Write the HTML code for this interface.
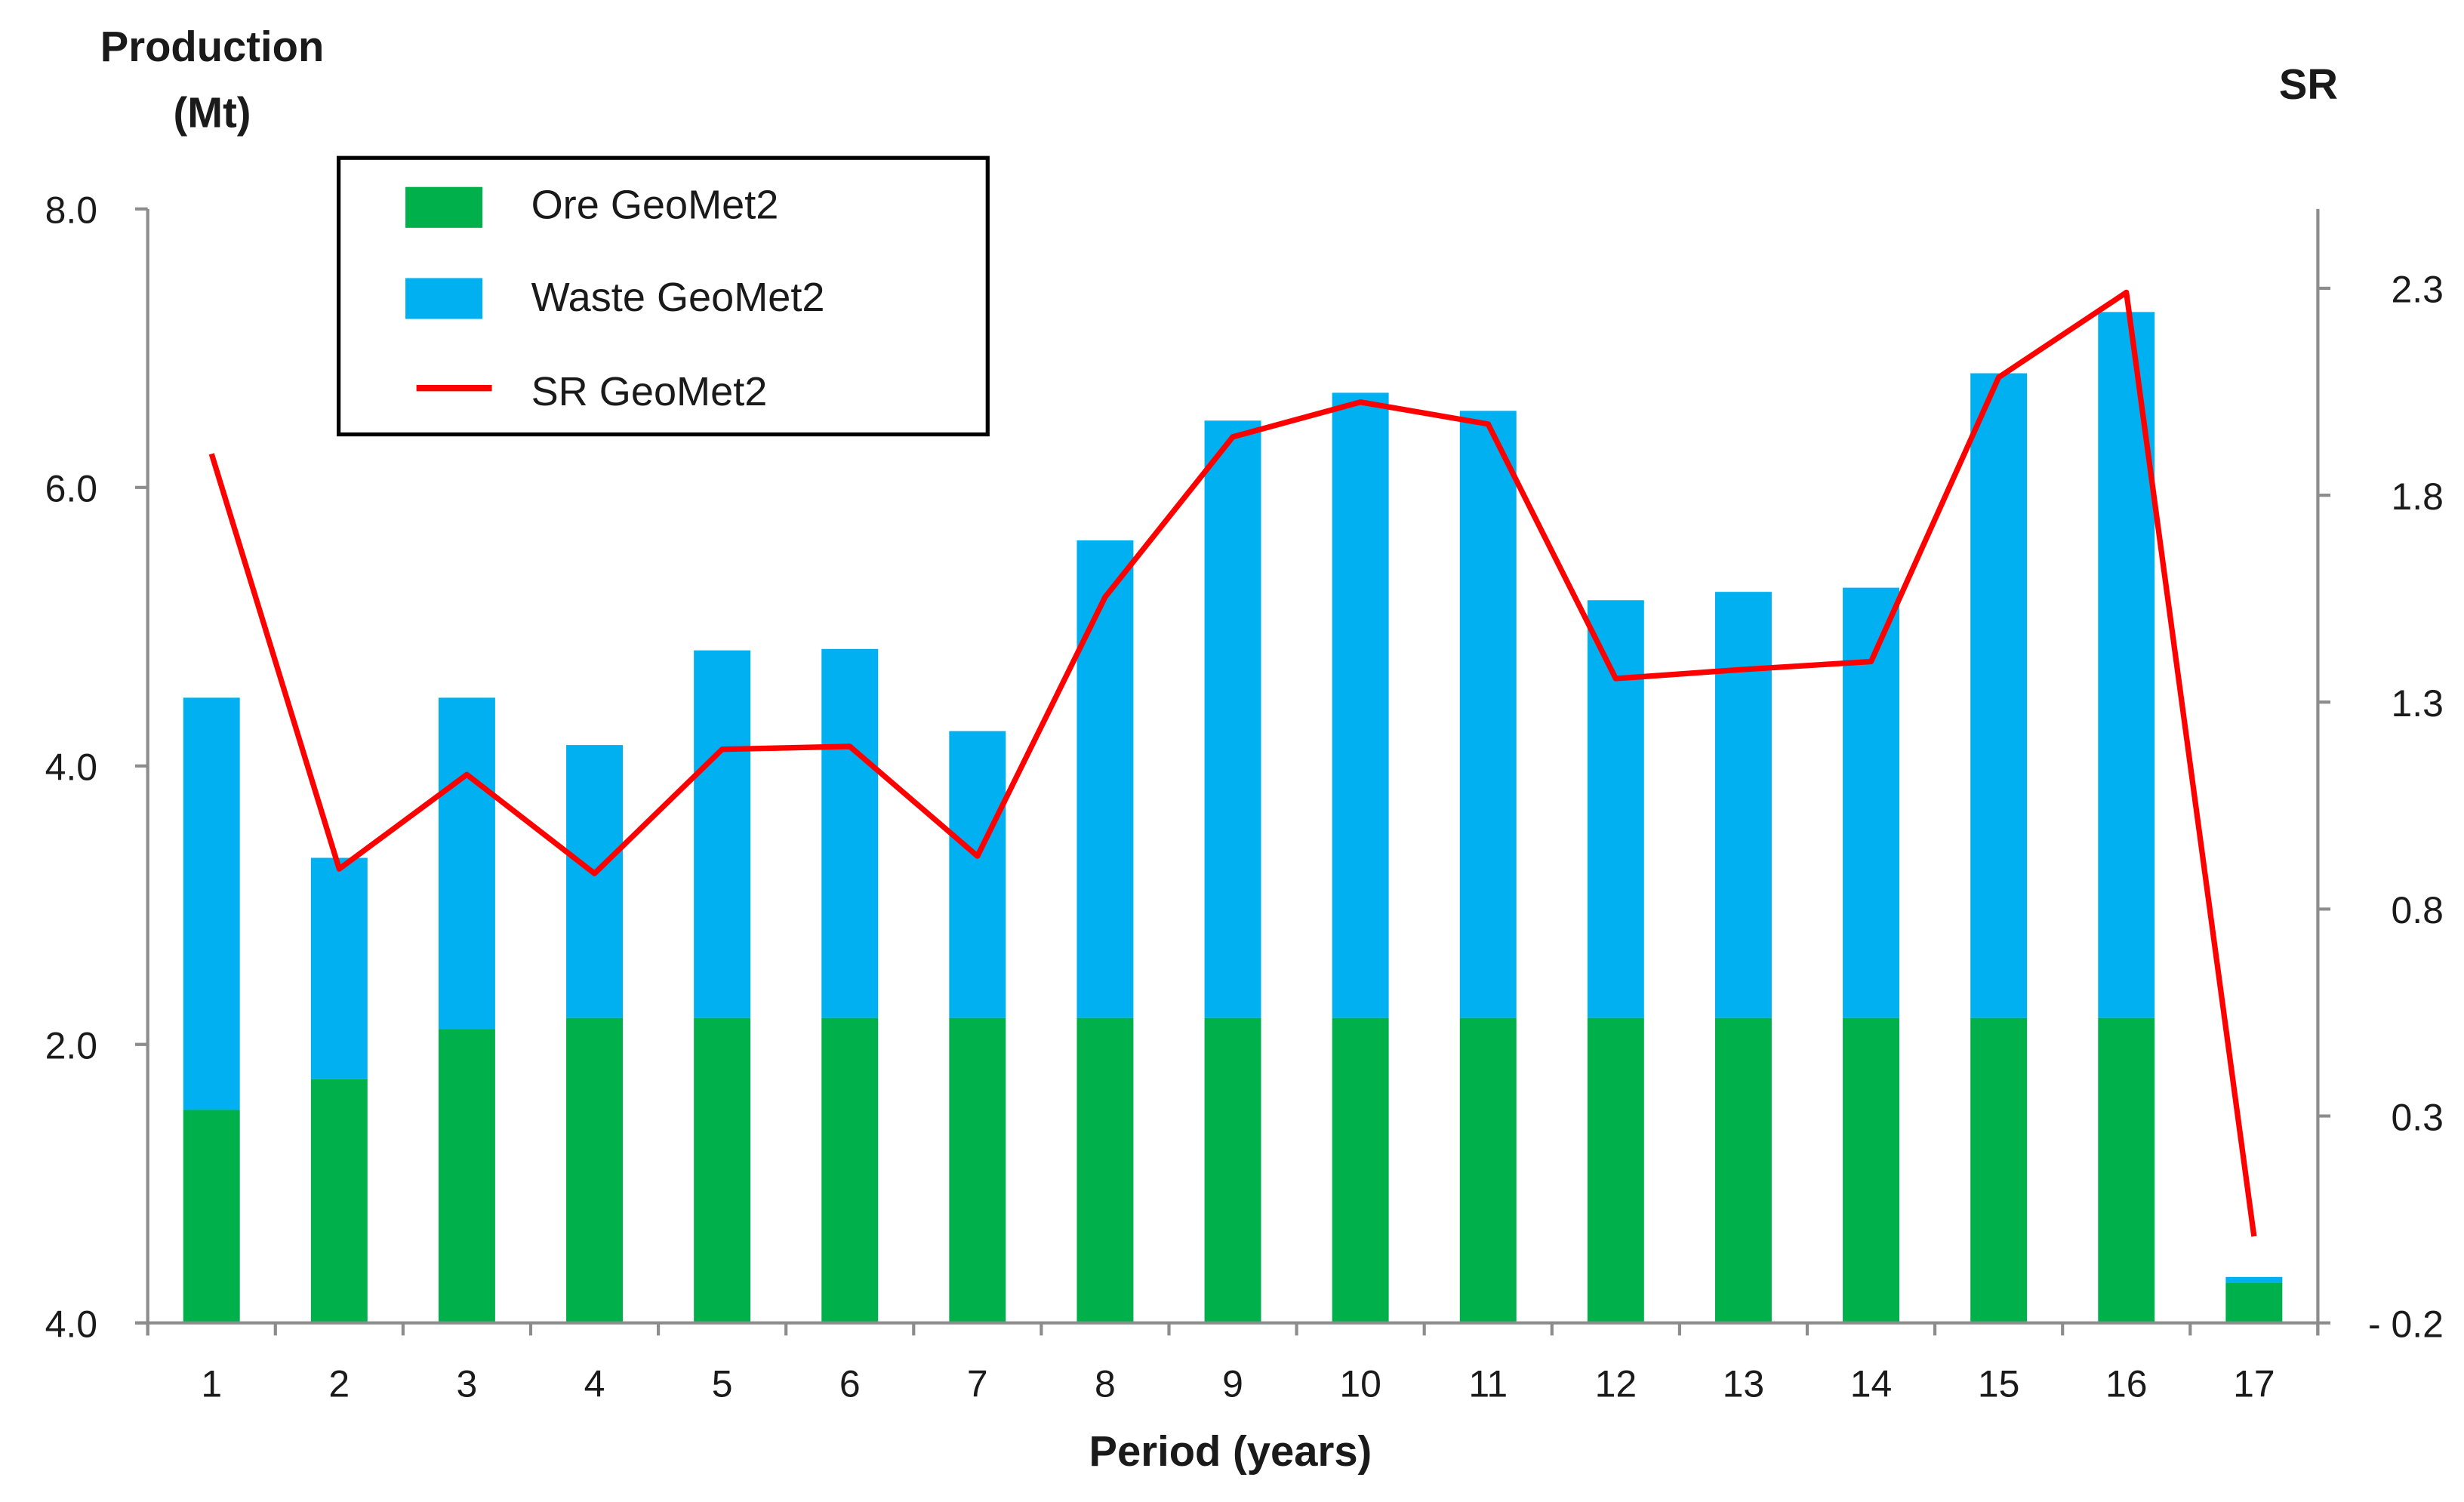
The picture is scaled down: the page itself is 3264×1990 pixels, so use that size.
<!DOCTYPE html>
<html><head><meta charset="utf-8"><style>
html,body{margin:0;padding:0;background:#fff;}
svg{display:block;}
text{font-family:"Liberation Sans",sans-serif;fill:#1a1a1a;}
</style></head><body>
<svg id="chart" width="3264" height="1990" viewBox="0 0 1568 956" preserveAspectRatio="none" xmlns="http://www.w3.org/2000/svg">
<g id="grid"></g>
<g id="bars"></g>
<g id="line"></g>
<g id="axes"></g>
<text x="135" y="39" text-anchor="middle" font-size="27" font-weight="bold">Production</text>
<text x="135" y="81" text-anchor="middle" font-size="27" font-weight="bold">(Mt)</text>
<text x="1469" y="63" text-anchor="middle" font-size="27" font-weight="bold">SR</text>
<text x="783" y="933" text-anchor="middle" font-size="27" font-weight="bold">Period (years)</text>
<g>
<rect x="215.5" y="100.5" width="413" height="176" fill="#fff" stroke="#000" stroke-width="2.5"/>
<rect x="258" y="119" width="49" height="26" fill="#00b04a"/>
<text x="338" y="139" font-size="26">Ore GeoMet2</text>
<rect x="258" y="177" width="49" height="26" fill="#00b0f0"/>
<text x="338" y="198" font-size="26">Waste GeoMet2</text>
<line x1="265" y1="247" x2="313" y2="247" stroke="#ff0000" stroke-width="4"/>
<text x="338" y="258" font-size="26">SR GeoMet2</text>
</g>
</svg>
<script>
const categories = ["1","2","3","4","5","6","7","8","9","10","11","12","13","14","15","16","17"];
const oreValues = [1.53,1.75,2.11,2.19,2.19,2.19,2.19,2.19,2.19,2.19,2.19,2.19,2.19,2.19,2.19,2.19,0.29];
const totalValues = [4.49,3.34,4.49,4.15,4.83,4.84,4.25,5.62,6.48,6.68,6.55,5.19,5.25,5.28,6.82,7.26,0.33];
const srValues = [1.90,0.897,1.125,0.886,1.186,1.193,0.928,1.554,1.941,2.025,1.972,1.357,1.379,1.398,2.085,2.29,0.009];
const leftTicks = [0,2,4,6,8];
const leftTickLabels = ["4.0","2.0","4.0","6.0","8.0"];
const rightTicks = [-0.2,0.3,0.8,1.3,1.8,2.3];
const rightTickLabels = ["- 0.2","0.3","0.8","1.3","1.8","2.3"];

const NS="http://www.w3.org/2000/svg";
const X0=94, X1=1475, Y0=842, Ytop=133;
const band=(X1-X0)/categories.length;
const xC=i=>X0+band*(i+0.5);
const yL=v=>Y0-(Y0-Ytop)*v/8;
const yR=v=>Y0-(v+0.2)*263.4;
function mk(tag,attrs,parent){const e=document.createElementNS(NS,tag);for(const k in attrs)e.setAttribute(k,attrs[k]);parent.appendChild(e);return e;}
const bars=document.getElementById('bars'), axes=document.getElementById('axes'), lineG=document.getElementById('line');
const bw=36;
categories.forEach((c,i)=>{
  let r=mk('rect',{x:xC(i)-bw/2,y:yL(totalValues[i]),width:bw,height:yL(oreValues[i])-yL(totalValues[i]),fill:'#00b0f0'},bars);
  
  
  let o=mk('rect',{x:xC(i)-bw/2,y:yL(oreValues[i]),width:bw,height:Y0-yL(oreValues[i]),fill:'#00b04a'},bars);
  
  
  let t=mk('text',{x:xC(i),y:889,'text-anchor':'middle','font-size':24},axes);
  t.textContent=c;
  
  
});
let pts=srValues.map((v,i)=>xC(i)+','+yR(v)).join(' ');
let pl=mk('polyline',{points:pts,fill:'none',stroke:'#ff0000','stroke-width':3.5,'stroke-linejoin':'round'},lineG);


const ax='#8c8c8c';
let a1=mk('line',{x1:X0,y1:Ytop,x2:X0,y2:Y0+8,stroke:ax,'stroke-width':2},axes);


let a2=mk('line',{x1:X1,y1:Ytop,x2:X1,y2:Y0+8,stroke:ax,'stroke-width':2},axes);


let a3=mk('line',{x1:X0-8,y1:Y0,x2:X1,y2:Y0,stroke:ax,'stroke-width':2},axes);


for(let i=0;i<=categories.length;i++){mk('line',{x1:X0+band*i,y1:Y0,x2:X0+band*i,y2:Y0+8,stroke:ax,'stroke-width':2},axes);}
leftTicks.forEach((v,i)=>{
  mk('line',{x1:X0-8,y1:yL(v),x2:X0,y2:yL(v),stroke:ax,'stroke-width':2},axes);
  let t=mk('text',{x:62,y:yL(v)+9,'text-anchor':'end','font-size':24},axes);
  t.textContent=leftTickLabels[i];
  
  
});
rightTicks.forEach((v,i)=>{
  mk('line',{x1:X1,y1:yR(v),x2:X1+8,y2:yR(v),stroke:ax,'stroke-width':2},axes);
  let t=mk('text',{x:1555,y:yR(v)+9,'text-anchor':'end','font-size':24},axes);
  t.textContent=rightTickLabels[i];
  
  
});
</script>
</body></html>
